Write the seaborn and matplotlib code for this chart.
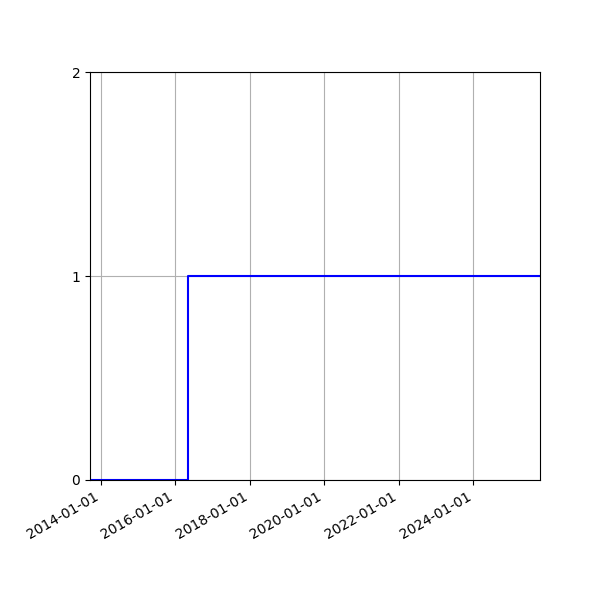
import pandas as pd
import seaborn as sns
import matplotlib
matplotlib.use("Agg")
import matplotlib.pyplot as plt
import matplotlib.dates as mdates

# Данные ступенчатого графика
dates = ["2013-09-17", "2016-05-03", "2025-10-16"]
values = [0, 1, 1]

df = pd.DataFrame({"date": pd.to_datetime(dates), "value": values})

fig, ax = plt.subplots(figsize=(6, 6), dpi=100)
sns.lineplot(data=df, x="date", y="value", drawstyle="steps-post",
             color="blue", linewidth=1.5, ax=ax)

ax.set_xlim(df["date"].min(), df["date"].max())
ax.set_ylim(0, 2)
ax.set_yticks([0, 1, 2])
ax.xaxis.set_major_locator(mdates.YearLocator(2))
ax.xaxis.set_major_formatter(mdates.DateFormatter("%Y-%m-%d"))
ax.set_xlabel("")
ax.set_ylabel("")
ax.grid(True)

fig.autofmt_xdate()
fig.subplots_adjust(left=0.15, right=0.9, top=0.88, bottom=0.2)
fig.savefig("out.png", dpi=100)
